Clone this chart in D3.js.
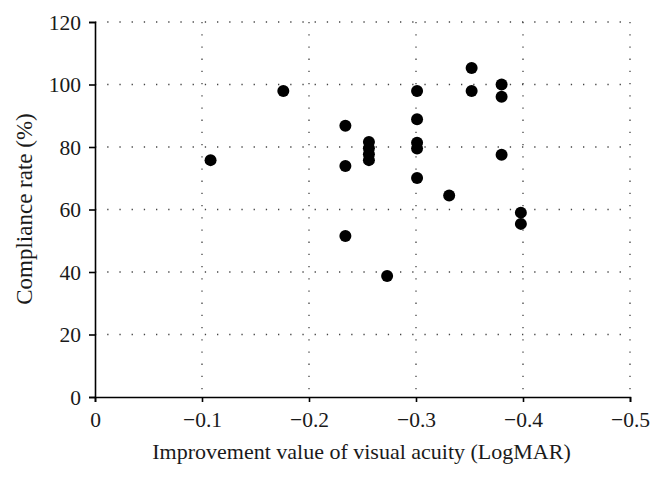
<!DOCTYPE html>
<html lang="en">
<head>
<meta charset="UTF-8">
<title>Compliance vs visual acuity</title>
<script src="https://cdn.jsdelivr.net/npm/d3@7"></script>
<style>
  body { margin: 0; background: #fff; }
  text { font-family: "Liberation Serif", "DejaVu Serif", serif; fill: #1a1a1a; }
  .grid line { stroke: #444; stroke-width: 1.3px; stroke-dasharray: 1.3 10.9; }
  .axis path, .axis line { stroke: #000; stroke-width: 1.6px; }
</style>
</head>
<body>
<svg width="662" height="478"></svg>
<script>
// improvement value of visual acuity (LogMAR) and compliance rate (%)
var improvement = [-0.108, -0.176, -0.234, -0.234, -0.234, -0.256, -0.256, -0.256, -0.256,
                   -0.301, -0.301, -0.301, -0.301, -0.301, -0.273, -0.331,
                   -0.352, -0.352, -0.380, -0.380, -0.380, -0.398, -0.398];
var compliance  = [75.8, 97.9, 86.8, 73.9, 51.5, 81.6, 79.6, 77.7, 75.8,
                   97.9, 88.9, 81.4, 79.5, 70.1, 38.7, 64.5,
                   105.3, 97.9, 100.0, 96.1, 77.5, 59.0, 55.4];
var xTicks = [0, -0.1, -0.2, -0.3, -0.4, -0.5];
var yTicks = [0, 20, 40, 60, 80, 100, 120];

var svg = d3.select("svg");
var mLeft = 95, mRight = 630, mTop = 22, mBottom = 397;

var x = d3.scaleLinear().domain([0, -0.5]).range([mLeft, mRight]);
var y = d3.scaleLinear().domain([0, 120]).range([mBottom, mTop]);

var fmt = function(d) { return d === 0 ? "0" : "\u2212" + Math.abs(d).toFixed(1); };

// dotted grid
var grid = svg.append("g").attr("class", "grid");
grid.selectAll(".h").data(yTicks.filter(function(d) { return d > 0; }))
  .enter().append("line")
  .attr("x1", mLeft).attr("x2", mRight)
  .attr("y1", function(d) { return y(d); }).attr("y2", function(d) { return y(d); });
grid.selectAll(".v").data(xTicks.filter(function(d) { return d !== 0; }))
  .enter().append("line")
  .attr("y1", mTop).attr("y2", mBottom)
  .attr("x1", function(d) { return x(d); }).attr("x2", function(d) { return x(d); });

// axes
var xAxis = svg.append("g").attr("class", "axis")
  .attr("transform", "translate(0," + mBottom + ")")
  .call(d3.axisBottom(x).tickValues(xTicks).tickFormat(fmt).tickSizeInner(5).tickSizeOuter(5).tickPadding(10));
var yAxis = svg.append("g").attr("class", "axis")
  .attr("transform", "translate(" + mLeft + ",0)")
  .call(d3.axisLeft(y).tickValues(yTicks).tickSizeInner(6).tickSizeOuter(6).tickPadding(8));
svg.selectAll(".axis text").style("font-size", "21.5px").style("font-family", "'Liberation Serif', serif").attr("fill", "#1a1a1a");
yAxis.selectAll("text").attr("dy", "0.34em");

// points
svg.append("g").selectAll("circle")
  .data(improvement.map(function(v, i) { return [v, compliance[i]]; }))
  .enter().append("circle")
  .attr("cx", function(d) { return x(d[0]); })
  .attr("cy", function(d) { return y(d[1]); })
  .attr("r", 6)
  .attr("fill", "#000");

// labels
svg.append("text")
  .attr("x", (mLeft + mRight) / 2 - 1).attr("y", 459)
  .attr("text-anchor", "middle")
  .style("font-size", "22px")
  .text("Improvement value of visual acuity (LogMAR)");
svg.append("text")
  .attr("transform", "translate(32," + 209 + ") rotate(-90)")
  .attr("text-anchor", "middle")
  .style("font-size", "23px")
  .text("Compliance rate (%)");
</script>
</body>
</html>
